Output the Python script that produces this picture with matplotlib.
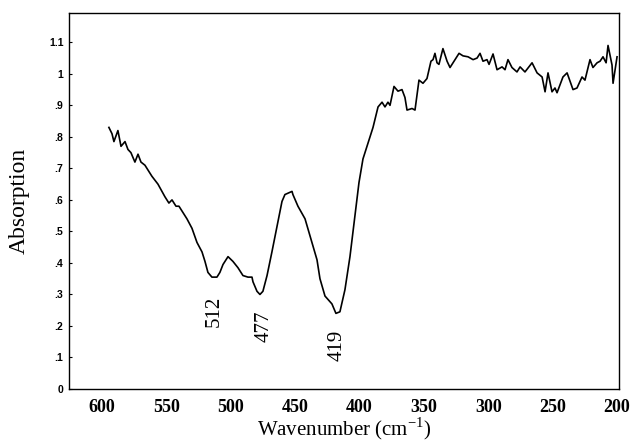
#!/usr/bin/env python3
"""Far-IR absorption spectrum (600-200 cm-1) with three labelled minima."""
import matplotlib
matplotlib.use("Agg")
import matplotlib.pyplot as plt

# traced spectrum: wavenumber (cm-1) and absorption
wn = [594.6, 592.2, 590.7, 587.6, 585.2, 582.1, 579.8, 577.5, 574.4, 572.0,
      569.7, 566.6, 561.2, 556.5, 551.1, 548.0, 545.6, 542.5, 540.2, 534.0,
      530.1, 526.2, 522.3, 520.0, 517.7, 514.6, 510.7, 508.4, 506.0, 502.1,
      498.3, 494.4, 490.5, 486.6, 483.5, 482.7, 479.6, 477.3, 475.0, 471.8,
      468.0, 464.1, 460.2, 457.9, 452.4, 451.7, 447.8, 442.3, 436.9, 433.0,
      430.7, 426.8, 421.4, 418.3, 415.2, 411.3, 407.4, 403.5, 400.4, 397.3,
      393.4, 389.5, 385.6, 382.5, 380.2, 377.9, 376.3, 373.2, 370.1, 367.0,
      364.7, 363.1, 359.2, 356.9, 353.8, 350.7, 347.6, 344.5, 342.9, 341.4,
      339.8, 338.3, 335.2, 332.0, 329.7, 327.4, 322.7, 319.6, 315.7, 311.8,
      308.7, 306.4, 304.1, 301.0, 299.4, 296.3, 293.2, 289.3, 287.0, 284.7,
      281.6, 277.7, 275.3, 271.5, 266.0, 262.1, 258.2, 255.9, 253.6, 250.5,
      248.2, 246.6, 242.0, 238.8, 234.2, 231.1, 227.2, 224.9, 221.0, 218.7,
      215.5, 213.2, 210.9, 208.5, 207.0, 203.9, 203.1, 200.0]
absorb = [0.83, 0.81, 0.785, 0.82, 0.77, 0.785, 0.76, 0.75, 0.72, 0.745,
          0.72, 0.71, 0.675, 0.65, 0.61, 0.59, 0.60, 0.58, 0.58, 0.54,
          0.51, 0.465, 0.435, 0.405, 0.37, 0.355, 0.355, 0.37, 0.395, 0.42,
          0.405, 0.385, 0.36, 0.355, 0.355, 0.34, 0.31, 0.30, 0.31, 0.36,
          0.435, 0.515, 0.595, 0.617, 0.627, 0.617, 0.58, 0.54, 0.465, 0.41,
          0.35, 0.295, 0.27, 0.24, 0.245, 0.315, 0.42, 0.55, 0.655, 0.73,
          0.78, 0.83, 0.895, 0.91, 0.895, 0.91, 0.90, 0.96, 0.945, 0.95,
          0.925, 0.885, 0.89, 0.885, 0.98, 0.97, 0.985, 1.04, 1.045, 1.065,
          1.035, 1.03, 1.08, 1.04, 1.02, 1.035, 1.065, 1.057, 1.054, 1.045,
          1.05, 1.065, 1.04, 1.045, 1.03, 1.063, 1.013, 1.022, 1.013, 1.045,
          1.02, 1.006, 1.022, 1.006, 1.035, 1.003, 0.99, 0.943, 1.003, 0.943,
          0.955, 0.94, 0.99, 1.003, 0.95, 0.955, 0.99, 0.98, 1.045, 1.02,
          1.035, 1.04, 1.054, 1.035, 1.09, 1.028, 0.97, 1.054]

peaks = ["512", "477", "419"]
peak_x = [513, 474, 417.5]
peak_y = [0.245, 0.20, 0.14]

xticks = [600, 550, 500, 450, 400, 350, 300, 250, 200]
yticks = [0, 0.1, 0.2, 0.3, 0.4, 0.5, 0.6, 0.7, 0.8, 0.9, 1.0, 1.1]
ytick_labels = ["0", ".1", ".2", ".3", ".4", ".5", ".6", ".7", ".8", ".9", "1", "1.1"]

SERIF = "Liberation Serif"
SANS = "Liberation Sans"

fig = plt.figure(figsize=(6.34, 4.45), dpi=100)
ax = fig.add_axes([0.1088, 0.1258, 0.8675, 0.845])
ax.plot(wn, absorb, color="black", lw=1.2)

for lab, x, y in zip(peaks, peak_x, peak_y):
    ax.text(x, y, lab, rotation=90, ha="center", va="center",
            family=SERIF, fontsize=15)

ax.set_xlim(625.6, 198.5)
ax.set_ylim(0, 1.193)
ax.set_xticks(xticks)
ax.set_xticklabels([str(t) for t in xticks], family=SERIF, fontweight="bold", fontsize=13)
ax.set_yticks(yticks)
ax.set_yticklabels(ytick_labels, family=SANS, fontweight="bold", fontsize=7.5)
ax.tick_params(axis="x", length=0, pad=7)
ax.tick_params(axis="y", length=2, direction="in", pad=4)
for s in ax.spines.values():
    s.set_linewidth(1.0)

ax.set_xlabel("Wavenumber (cm$^{\\mathregular{-1}}$)", family=SERIF, fontsize=15, labelpad=0)
ax.set_ylabel("Absorption", family=SERIF, fontsize=17, labelpad=14)

fig.savefig("out.png", dpi=100)
